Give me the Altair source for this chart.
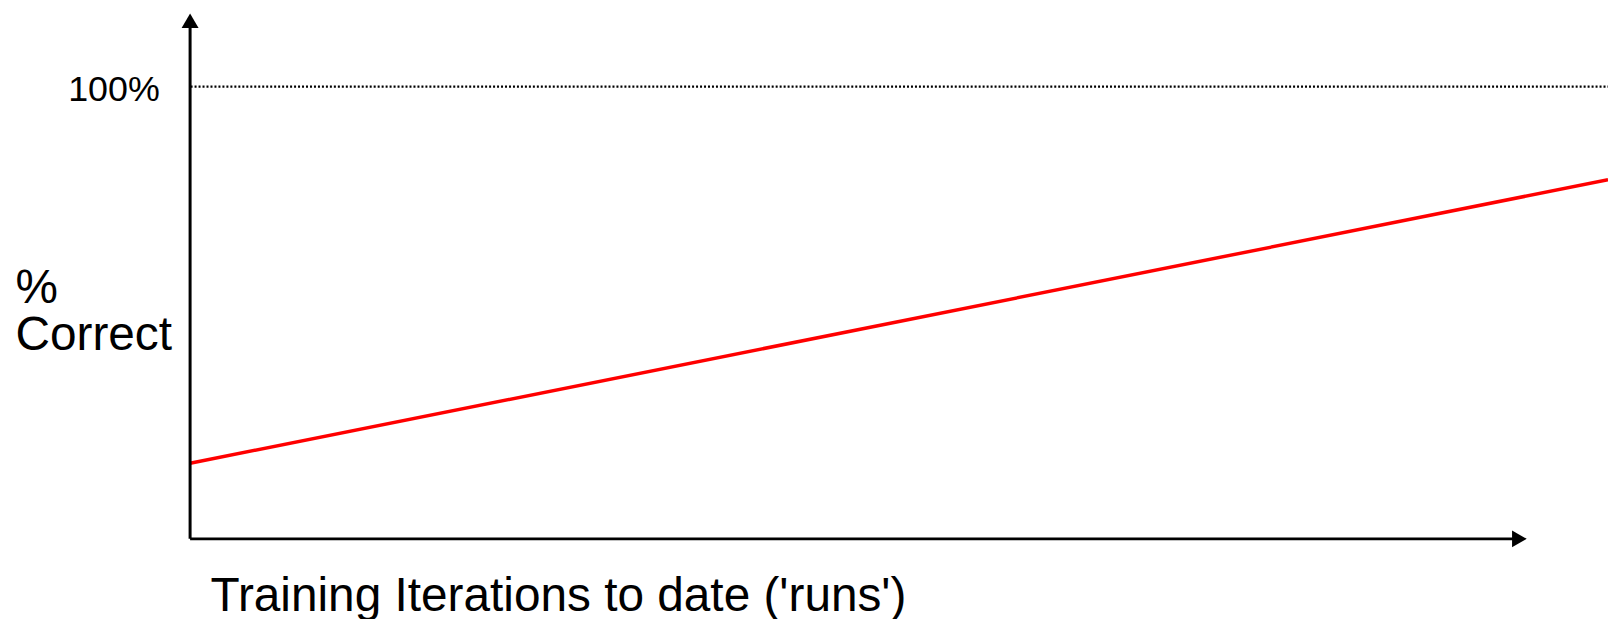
import altair as alt
import pandas as pd

# Data (x in arbitrary iteration units 0..100, y in % correct)
line_x = [0, 100]
line_y = [16.7, 79.3]

axis_x_line = [0, 93.6]      # x-axis rule extent
axis_y_line = [0, 113.5]     # y-axis rule extent
arrow_x = [0, 93.75]
arrow_y = [114.4, 0]
arrow_shape = ["triangle-up", "triangle-right"]

x_title = "Training Iterations to date ('runs')"
y_title = ["%", "Correct"]
target_value = [100]

FONT = "Liberation Sans"

xs = alt.Scale(domain=[0, 100], nice=False, zero=False)
ys = alt.Scale(domain=[0, 116], nice=False, zero=False)

x_axis = alt.Axis(
    title=x_title, labels=False, ticks=False, domain=False, grid=False,
    titleFont=FONT, titleFontSize=48, titleFontWeight="normal", titleColor="black",
    titleAnchor="start", titleAlign="left", titleBaseline="alphabetic",
    titleX=20, titleY=72)
y_axis = alt.Axis(
    title=y_title, values=target_value, labelExpr="datum.value + '%'",
    ticks=False, domain=False, grid=True, gridDash=[2, 2], gridColor="black",
    gridWidth=2.2, gridOpacity=1,
    labelFont=FONT, labelFontSize=36, labelColor="black", labelPadding=31,
    labelBaseline="alphabetic", labelOffset=15,
    titleFont=FONT, titleFontSize=48, titleFontWeight="normal", titleColor="black",
    titleAngle=0, titleAlign="left", titleBaseline="alphabetic",
    titleX=-176, titleY=290, titleLineHeight=48)

line_df = pd.DataFrame({"x": line_x, "y": line_y})
red = alt.Chart(line_df).mark_line(color="#ff0000", strokeWidth=3.5).encode(
    x=alt.X("x:Q", scale=xs, axis=x_axis),
    y=alt.Y("y:Q", scale=ys, axis=y_axis),
)

xaxis_df = pd.DataFrame({"x": [axis_x_line[0]], "x2": [axis_x_line[1]], "y": [0]})
xaxis_rule = alt.Chart(xaxis_df).mark_rule(color="black", strokeWidth=3).encode(
    x=alt.X("x:Q", scale=xs, axis=x_axis), x2="x2:Q",
    y=alt.Y("y:Q", scale=ys, axis=y_axis),
)

yaxis_df = pd.DataFrame({"x": [0], "y": [axis_y_line[0]], "y2": [axis_y_line[1]]})
yaxis_rule = alt.Chart(yaxis_df).mark_rule(color="black", strokeWidth=3).encode(
    x=alt.X("x:Q", scale=xs, axis=x_axis),
    y=alt.Y("y:Q", scale=ys, axis=y_axis), y2="y2:Q",
)

arrow_df = pd.DataFrame({"x": arrow_x, "y": arrow_y, "shape": arrow_shape})
arrows = alt.Chart(arrow_df).mark_point(filled=True, color="black", size=290, opacity=1).encode(
    x=alt.X("x:Q", scale=xs, axis=x_axis),
    y=alt.Y("y:Q", scale=ys, axis=y_axis),
    shape=alt.Shape("shape:N", scale=None, legend=None),
)

chart = alt.layer(red, xaxis_rule, yaxis_rule, arrows).properties(
    width=1425, height=528,
    autosize=alt.AutoSizeParams(type="none"),
    padding={"left": 183, "top": 4, "right": 0, "bottom": 79},
    background="white",
).configure_view(stroke=None)

chart.save("out.html", embed_options={"renderer": "svg", "actions": False})
